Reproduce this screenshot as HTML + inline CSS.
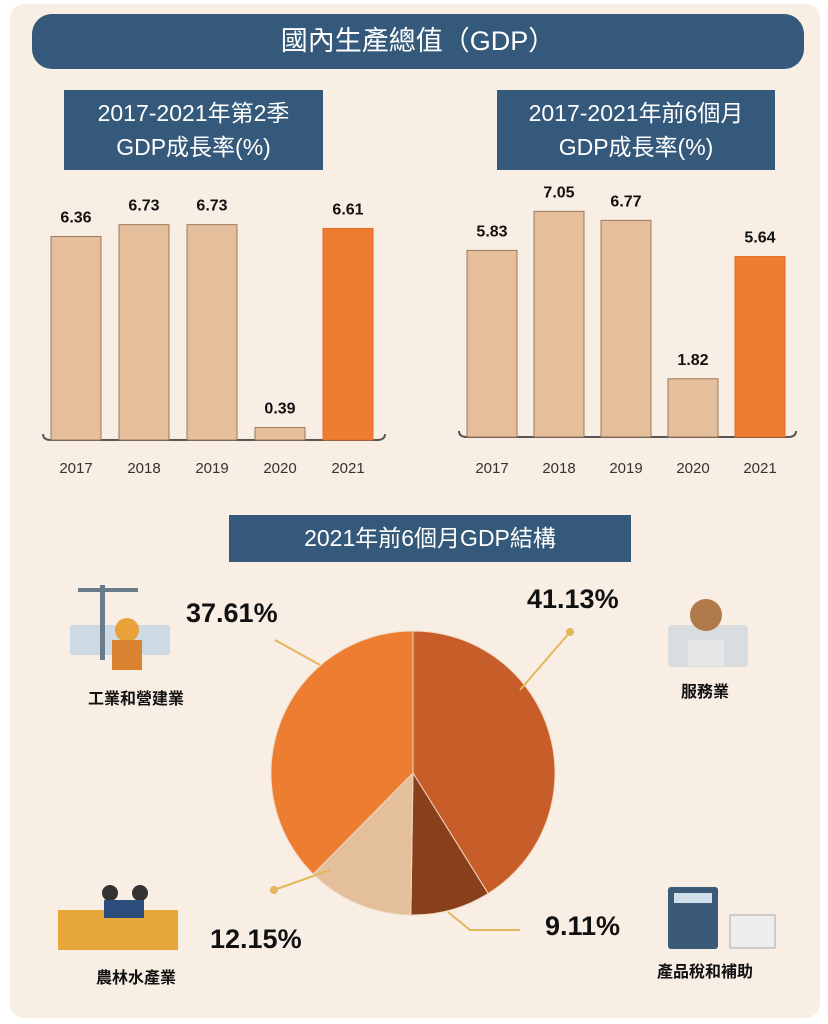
<!DOCTYPE html>
<html><head><meta charset="utf-8"><style>
body{margin:0;width:828px;height:1024px;background:#fff;font-family:"Liberation Sans","Noto Sans CJK TC",sans-serif;}
#card{position:absolute;left:10px;top:4px;width:810px;height:1014px;background:#f8eee4;border-radius:14px;}
.box{position:absolute;background:#35597b;color:#fff;text-align:center;}
svg{position:absolute;left:0;top:0}
</style></head><body>
<div id="card"></div>
<div class="box" style="left:32px;top:14px;width:772px;height:55px;border-radius:20px;font-size:27px;line-height:55px;">國內生產總值（GDP）</div>
<div class="box" style="left:64px;top:90px;width:259px;height:80px;font-size:23px;line-height:34px;padding-top:6px;box-sizing:border-box;">2017-2021年第2季<br>GDP成長率(%)</div>
<div class="box" style="left:497px;top:90px;width:278px;height:80px;font-size:23px;line-height:34px;padding-top:6px;box-sizing:border-box;">2017-2021年前6個月<br>GDP成長率(%)</div>
<div class="box" style="left:229px;top:515px;width:402px;height:47px;font-size:23px;line-height:47px;">2021年前6個月GDP結構</div>
<svg id="chart" width="828" height="1024"></svg>
<script>
const years=["2017","2018","2019","2020","2021"];
const q2Growth=[6.36,6.73,6.73,0.39,6.61];
const h1Growth=[5.83,7.05,6.77,1.82,5.64];
const pieLabels=["服務業","產品稅和補助","農林水產業","工業和營建業"];
const pieShares=[41.13,9.11,12.15,37.61];
const svg=document.getElementById('chart');const NS="http://www.w3.org/2000/svg";
function mk(t,a,p){const e=document.createElementNS(NS,t);for(const k in a)e.setAttribute(k,a[k]);(p||svg).appendChild(e);return e;}
function bars(vals,base,x0,step,id){
  const y=v=>base-v*32;
  const ax=mk('path',{d:`M${x0-8} ${base-6} Q${x0-8} ${base} ${x0} ${base} L${x0+step*5-14} ${base} Q${x0+step*5-6} ${base} ${x0+step*5-6} ${base-6}`,fill:'none',stroke:'#555','stroke-width':2});
  
  vals.forEach((v,i)=>{
    const x=x0+i*step;const last=i===vals.length-1;
    const r=mk('rect',{x:x,y:y(v),width:50,height:base-y(v),fill:last?'#ee7d31':'#e5bf9c',stroke:last?'#e07028':'#9a7a5c','stroke-width':1});
    
    const t=mk('text',{x:x+25,y:y(v)-14,'text-anchor':'middle','font-size':16,'font-weight':'bold',fill:'#111'});t.textContent=v.toFixed(2);
    
    const l=mk('text',{x:x+25,y:473,'text-anchor':'middle','font-size':15,fill:'#333'});l.textContent=years[i];
    
  });
}
bars(q2Growth,440,51,68,'q2');
bars(h1Growth,437,467,67,'h1');
// pie
const cx=413,cy=773,R=142;const cols=['#c75d28','#8a3f1c','#e3bf9c','#ed7d31'];
const tot=pieShares.reduce((a,b)=>a+b,0);let a0=0;
pieShares.forEach((v,i)=>{
  const a1=a0+v/tot*2*Math.PI;
  const p=(a)=>[cx+R*Math.sin(a),cy-R*Math.cos(a)];
  const [x0,y0]=p(a0),[x1,y1]=p(a1);
  const s=mk('path',{d:`M${cx} ${cy} L${x0} ${y0} A${R} ${R} 0 ${a1-a0>Math.PI?1:0} 1 ${x1} ${y1}Z`,fill:cols[i],stroke:'#f0d8c0','stroke-width':1});
  
  a0=a1;
});
// leader lines
[[520,690,570,632],[448,912,470,930,520,930],[330,870,274,890],[320,665,275,640]].forEach((pts,i)=>{
  let d='M'+pts[0]+' '+pts[1];for(let k=2;k<pts.length;k+=2)d+=' L'+pts[k]+' '+pts[k+1];
  const l=mk('path',{d,fill:'none',stroke:'#e6b65a','stroke-width':2});
  
});
mk('circle',{cx:570,cy:632,r:4,fill:'#e6b65a'});mk('circle',{cx:274,cy:890,r:4,fill:'#e6b65a'});
const pcts=[[575,608,'41.13%'],[545,935,'9.11%'],[210,948,'12.15%'],[186,622,'37.61%']];
pcts.forEach((q,i)=>{const t=mk('text',{x:q[0],y:q[1],'font-size':27,'font-weight':'bold',fill:'#111','text-anchor':'middle'});
  t.textContent=q[2];
  if(i>0)t.setAttribute('text-anchor','start'); if(i==0)t.setAttribute('text-anchor','start');});
[...svg.querySelectorAll('text')].slice(-4).forEach((t,i)=>t.setAttribute('x',[527,545,210,186][i]));
const cats=[[705,697,'服務業'],[705,977,'產品稅和補助'],[136,983,'農林水產業'],[136,704,'工業和營建業']];
cats.forEach((q,i)=>{const t=mk('text',{x:q[0],y:q[1],'font-size':16,'font-weight':'bold',fill:'#111','text-anchor':'middle'});
  t.textContent=pieLabels[i];});
// simple icons
const ic=[
 ['rect',{x:668,y:625,width:80,height:42,fill:'#d9dde0',rx:4}],['circle',{cx:706,cy:615,r:16,fill:'#b07a4a'}],['rect',{x:688,y:640,width:36,height:26,fill:'#e6e6e6'}],
 ['rect',{x:668,y:887,width:50,height:62,fill:'#3a5a78',rx:3}],['rect',{x:674,y:893,width:38,height:10,fill:'#cfe0ea'}],['rect',{x:730,y:915,width:45,height:33,fill:'#eee',stroke:'#aaa'}],
 ['rect',{x:58,y:910,width:120,height:40,fill:'#e8a73a'}],['circle',{cx:110,cy:893,r:8,fill:'#333'}],['circle',{cx:140,cy:893,r:8,fill:'#333'}],['rect',{x:104,y:900,width:40,height:18,fill:'#2d4e7c'}],
 ['rect',{x:70,y:625,width:100,height:30,fill:'#cdd9e3'}],['rect',{x:100,y:585,width:5,height:75,fill:'#6a7c8c'}],['rect',{x:78,y:588,width:60,height:4,fill:'#6a7c8c'}],['circle',{cx:127,cy:630,r:12,fill:'#e9a13a'}],['rect',{x:112,y:640,width:30,height:30,fill:'#d9822f'}]
];
ic.forEach(([t,a])=>{const e=mk(t,a);});
</script>
</body></html>
